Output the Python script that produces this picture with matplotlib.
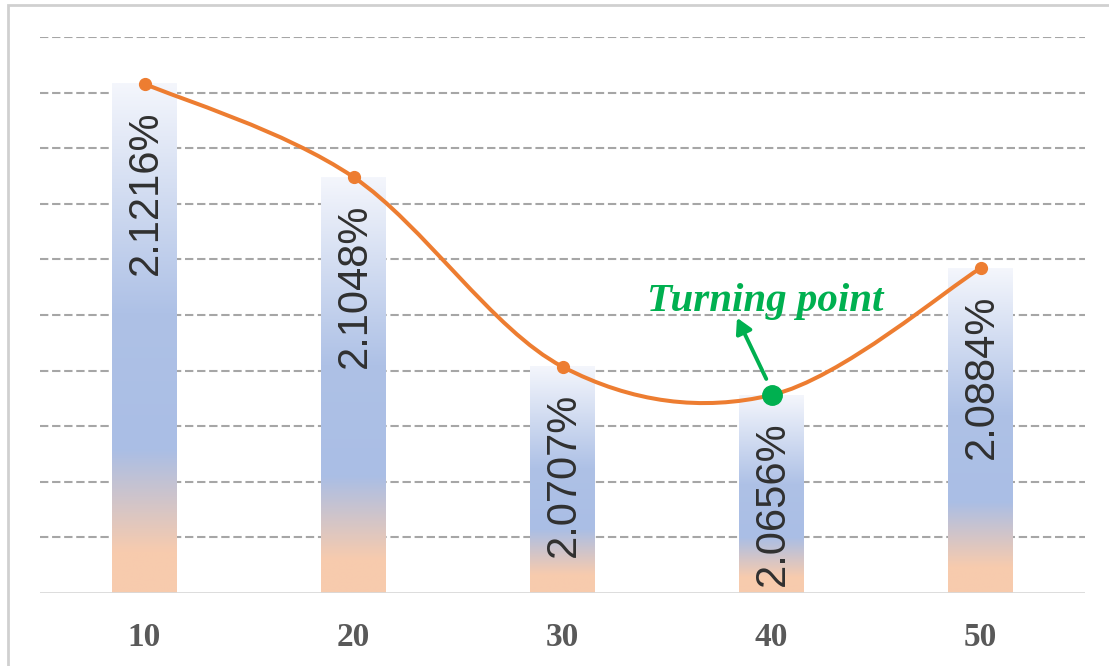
import numpy as np
import matplotlib.pyplot as plt
from matplotlib.path import Path
from matplotlib.patches import PathPatch, Rectangle
from matplotlib.colors import LinearSegmentedColormap

categories = ["10", "20", "30", "40", "50"]
values = [2.1216, 2.1048, 2.0707, 2.0656, 2.0884]
turning_idx = 3

y_base = 2.03
y_top = 2.13
grid_ticks = np.arange(2.04, 2.1301, 0.01)

W, H = 1109, 666
fig = plt.figure(figsize=(W / 100, H / 100), dpi=100)
ax = fig.add_axes([40 / W, 1 - 593 / H, 1045 / W, (593 - 37) / H])

# outer frame
fig.patches.append(Rectangle((8 / W, -0.1), 1.2, 1 - 5 / H + 0.1, transform=fig.transFigure,
                             fill=False, edgecolor="#D0D0D0", linewidth=2))

x = np.arange(len(categories))

for g in grid_ticks:
    ax.axhline(g, color="#A6A6A6", linewidth=1.5, dashes=(4, 1.8), zorder=0)
ax.axhline(y_base, color="#D9D9D9", linewidth=2, zorder=3)

# bars with vertical gradient: pale top, blue middle, peach bottom
cmap = LinearSegmentedColormap.from_list("bar", [
    (0.0, "#F4F6FC"), (0.45, "#AEC1E6"), (0.72, "#AABEE5"),
    (0.92, "#F7CBAE"), (1.0, "#F8CBAD")])
grad = np.linspace(0, 1, 256).reshape(-1, 1)
bw = 0.31
for xi, v in zip(x, values):
    ax.imshow(grad, cmap=cmap, extent=[xi - bw / 2, xi + bw / 2, y_base, v],
              aspect="auto", origin="upper", zorder=1, interpolation="bilinear")
    ax.annotate(f"{v:.4f}%", (xi, v), xytext=(1, -19), textcoords="offset points",
                rotation=90, ha="center", va="top", fontsize=30,
                family="Liberation Sans", color="#303030", zorder=4)
ax.set_xlim(-0.5, len(categories) - 0.5)
ax.set_ylim(y_base, y_top)

# smoothed line through the points (Catmull-Rom as cubic Bezier)
pts = np.column_stack([x, values]).astype(float)
ext = np.vstack([pts[0], pts, pts[-1]])
verts = [tuple(pts[0])]
codes = [Path.MOVETO]
for i in range(len(pts) - 1):
    p0, p1, p2, p3 = ext[i], ext[i + 1], ext[i + 2], ext[i + 3]
    c1 = p1 + (p2 - p0) / 6
    c2 = p2 - (p3 - p1) / 6
    verts += [tuple(c1), tuple(c2), tuple(p2)]
    codes += [Path.CURVE4] * 3
ax.add_patch(PathPatch(Path(verts, codes), fill=False, edgecolor="#ED7D31",
                       linewidth=2.9, zorder=5, capstyle="round"))
ax.plot(x, values, "o", color="#ED7D31", markersize=8.5, zorder=6)
ax.plot(x[turning_idx], values[turning_idx], "o", color="#00B050", markersize=14, zorder=7)

ax.annotate("", xy=(x[turning_idx] - 0.165, 2.0795), xytext=(x[turning_idx] - 0.025, 2.0685),
            arrowprops=dict(arrowstyle="-|>,head_width=0.5,head_length=0.9",
                            color="#00B050", linewidth=2.8, shrinkA=0, shrinkB=0), zorder=7)
ax.text(x[turning_idx] - 0.03, 2.0825, "Turning point", ha="center", va="center",
        fontsize=29.5, fontweight="bold", fontstyle="italic",
        family="Liberation Serif", color="#00B050", zorder=8)

ax.set_xticks(x)
ax.set_xticklabels(categories, family="Liberation Serif", fontweight="bold",
                   fontsize=24, color="#595959")
ax.tick_params(axis="x", length=0, pad=21)
ax.set_yticks([])
for s in ax.spines.values():
    s.set_visible(False)

fig.savefig("out.png", dpi=100)
